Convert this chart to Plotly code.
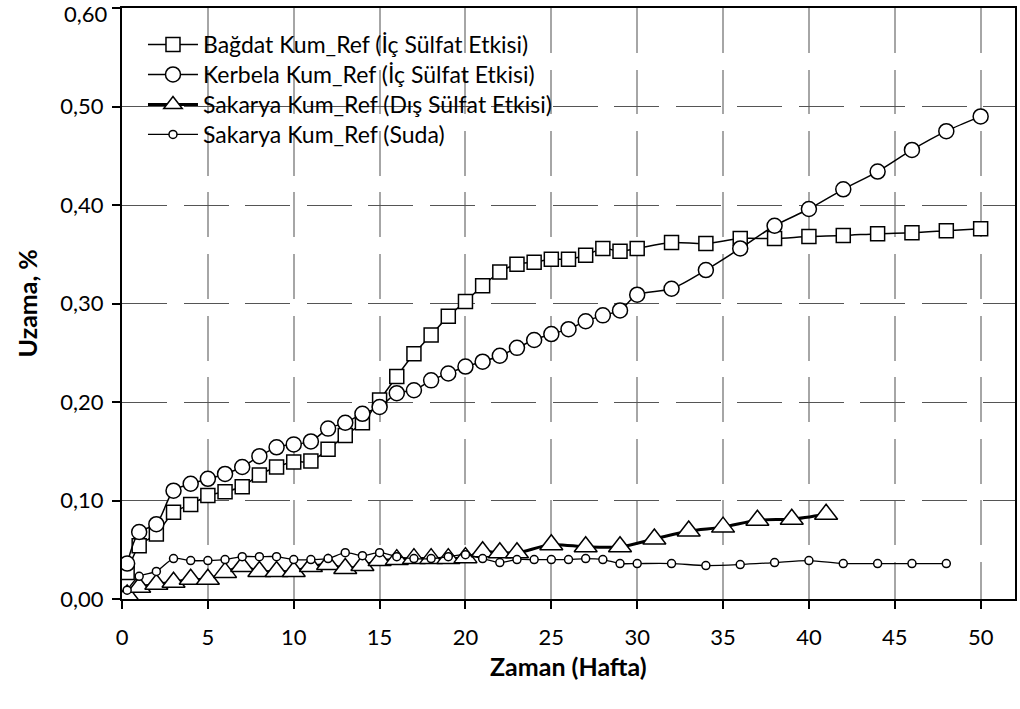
import plotly.graph_objects as go

# ---- data ----
x_bagdat = [0.3, 1, 2, 3, 4, 5, 6, 7, 8, 9, 10, 11, 12, 13, 14, 15, 16, 17, 18, 19, 20,
            21, 22, 23, 24, 25, 26, 27, 28, 29, 30, 32, 34, 36, 38, 40, 42, 44, 46, 48, 50]
y_bagdat = [0.027, 0.054, 0.066, 0.088, 0.096, 0.105, 0.109, 0.114, 0.126, 0.134, 0.139,
            0.140, 0.152, 0.166, 0.179, 0.202, 0.226, 0.249, 0.268, 0.287, 0.302,
            0.318, 0.332, 0.340, 0.342, 0.345, 0.345, 0.349, 0.356, 0.353, 0.356,
            0.362, 0.361, 0.366, 0.366, 0.368, 0.369, 0.371, 0.372, 0.374, 0.376]

x_kerbela = list(x_bagdat)
y_kerbela = [0.036, 0.068, 0.076, 0.110, 0.117, 0.122, 0.127, 0.134, 0.145, 0.154, 0.157,
             0.160, 0.173, 0.179, 0.188, 0.195, 0.209, 0.212, 0.222, 0.229, 0.236,
             0.241, 0.247, 0.255, 0.263, 0.269, 0.274, 0.282, 0.288, 0.293, 0.309,
             0.315, 0.334, 0.356, 0.379, 0.396, 0.416, 0.434, 0.456, 0.475, 0.490]

x_dis = [0.3, 1, 2, 3, 4, 5, 6, 7, 8, 9, 10, 11, 12, 13, 14, 15, 16, 17, 18, 19, 20,
         21, 22, 23, 25, 27, 29, 31, 33, 35, 37, 39, 41]
y_dis = [0.004, 0.012, 0.015, 0.017, 0.020, 0.020, 0.027, 0.033, 0.028, 0.028, 0.028,
         0.033, 0.035, 0.031, 0.034, 0.039, 0.040, 0.041, 0.041, 0.041, 0.042,
         0.048, 0.047, 0.047, 0.055, 0.053, 0.053, 0.061, 0.069, 0.073, 0.080, 0.081, 0.086]

x_suda = [0.3, 1, 2, 3, 4, 5, 6, 7, 8, 9, 10, 11, 12, 13, 14, 15, 16, 17, 18, 19, 20,
          21, 22, 23, 24, 25, 26, 27, 28, 29, 30, 32, 34, 36, 38, 40, 42, 44, 46, 48]
y_suda = [0.009, 0.023, 0.028, 0.041, 0.039, 0.039, 0.040, 0.043, 0.043, 0.043, 0.040,
          0.040, 0.041, 0.047, 0.044, 0.047, 0.043, 0.041, 0.041, 0.043, 0.045,
          0.041, 0.037, 0.040, 0.040, 0.040, 0.040, 0.041, 0.040, 0.036, 0.036,
          0.036, 0.034, 0.035, 0.037, 0.039, 0.036, 0.036, 0.036, 0.036]

names = ["Bağdat Kum_Ref (İç Sülfat Etkisi)",
         "Kerbela Kum_Ref (İç Sülfat Etkisi)",
         "Sakarya Kum_Ref (Dış Sülfat Etkisi)",
         "Sakarya Kum_Ref (Suda)"]

x_title = "Zaman (Hafta)"
y_title = "Uzama, %"

x_ticks = [0, 5, 10, 15, 20, 25, 30, 35, 40, 45, 50]
y_ticks = [0.0, 0.1, 0.2, 0.3, 0.4, 0.5, 0.6]
y_ticktext = ["0,00", "0,10", "0,20", "0,30", "0,40", "0,50", "0,60"]

FONT = "Lato"

fig = go.Figure()

series = [
    (x_bagdat, y_bagdat, names[0], "square", 14, 1.5),
    (x_kerbela, y_kerbela, names[1], "circle", 15, 1.5),
    (x_dis, y_dis, names[2], "triangle-up", 20, 3),
    (x_suda, y_suda, names[3], "circle", 8, 1.3),
]
legend_ids = ["legend", "legend2", "legend3", "legend4"]
for i, (xs, ys, nm, sym, sz, lw) in enumerate(series):
    fig.add_trace(go.Scatter(
        x=xs, y=ys, name=nm, mode="lines+markers",
        line=dict(color="black", width=lw, shape="spline", smoothing=0.8),
        marker=dict(symbol=sym, size=sz, color="white",
                    line=dict(color="black", width=1.5)),
        legend=legend_ids[i],
    ))

legend_style = dict(x=0.0235, xanchor="left", yanchor="top",
                    bgcolor="rgba(0,0,0,0)", borderwidth=0,
                    font=dict(family=FONT, size=23, color="black"),
                    itemwidth=50)
legend_tops = [0.9746, 0.9239, 0.8731, 0.8223]

# top tick label is drawn as an annotation so it can sit just inside the figure (as in the original)
shown_ticktext = y_ticktext[:-1] + [""]

fig.update_layout(
    width=1020, height=709,
    paper_bgcolor="white", plot_bgcolor="white",
    margin=dict(l=122, r=5, t=8, b=110, autoexpand=False),
    font=dict(family=FONT, size=22, color="black"),
    showlegend=True,
    legend=dict(y=legend_tops[0], **legend_style),
    legend2=dict(y=legend_tops[1], **legend_style),
    legend3=dict(y=legend_tops[2], **legend_style),
    legend4=dict(y=legend_tops[3], **legend_style),
    annotations=[
        dict(text=f"<b>{x_title}</b>", xref="paper", yref="paper", x=0.5, y=-0.113,
             xanchor="center", yanchor="middle", showarrow=False,
             font=dict(family=FONT, size=25, color="black")),
        dict(text=f"<b>{y_title}</b>", xref="paper", yref="paper", x=-0.1064, y=0.5,
             xanchor="center", yanchor="middle", showarrow=False, textangle=-90,
             font=dict(family=FONT, size=25, color="black")),
        dict(text=y_ticktext[-1], xref="paper", yref="y", x=0, y=y_ticks[-1],
             xanchor="right", yanchor="middle", xshift=-12, yshift=-5, showarrow=False,
             font=dict(family=FONT, size=22, color="black")),
    ],
)

fig.update_xaxes(
    range=[0, 52], tickmode="array", tickvals=x_ticks, automargin=False,
    ticks="outside", ticklen=8, tickwidth=2, tickcolor="black",
    showline=True, linewidth=2, linecolor="black", mirror=True,
    showgrid=True, gridcolor="#a6a6a6", gridwidth=1.5, griddash="45px,16.5px",
    zeroline=False, ticklabelstandoff=10,
    tickfont=dict(family=FONT, size=22),
)
fig.update_yaxes(
    range=[0, 0.6001], tickmode="array", tickvals=y_ticks, ticktext=shown_ticktext,
    automargin=False,
    ticks="outside", ticklen=8, tickwidth=2, tickcolor="black",
    showline=True, linewidth=2, linecolor="black", mirror=True,
    showgrid=True, gridcolor="#555555", gridwidth=1, griddash="45px,16.5px",
    zeroline=False, ticklabelstandoff=4,
    tickfont=dict(family=FONT, size=22),
)

fig.write_html("out.html")
